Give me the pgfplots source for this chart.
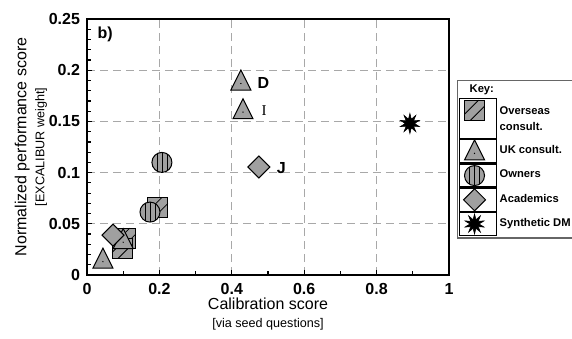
\documentclass[border=0pt]{standalone}
\usepackage{pgfplots}
\pgfplotsset{compat=1.18}
\usepackage{fontspec}
\setmainfont{Liberation Sans}
\newfontfamily\seriffont{Liberation Serif}
\definecolor{mk}{HTML}{A0A0A0}
\definecolor{gridc}{HTML}{A8A8A8}

% hatched square
\pgfdeclareplotmark{hsquare}{%
  \pgfpathrectangle{\pgfpoint{-\pgfplotmarksize}{-\pgfplotmarksize}}{\pgfpoint{2\pgfplotmarksize}{2\pgfplotmarksize}}%
  \pgfusepathqfill
  \begin{pgfscope}%
    \pgfsetlinewidth{0.4pt}%
    \pgfpathmoveto{\pgfpoint{-0.4\pgfplotmarksize}{-\pgfplotmarksize}}\pgfpathlineto{\pgfpoint{\pgfplotmarksize}{0.4\pgfplotmarksize}}%
    \pgfpathmoveto{\pgfpoint{-\pgfplotmarksize}{-0.4\pgfplotmarksize}}\pgfpathlineto{\pgfpoint{0.4\pgfplotmarksize}{\pgfplotmarksize}}%
    \pgfusepathqstroke
  \end{pgfscope}%
  \pgfpathrectangle{\pgfpoint{-\pgfplotmarksize}{-\pgfplotmarksize}}{\pgfpoint{2\pgfplotmarksize}{2\pgfplotmarksize}}%
  \pgfusepathqstroke
}
% circle with vertical lines
\pgfdeclareplotmark{vcircle}{%
  \pgfpathcircle{\pgfpointorigin}{\pgfplotmarksize}%
  \pgfusepathqfill
  \begin{pgfscope}%
    \pgfpathcircle{\pgfpointorigin}{\pgfplotmarksize}%
    \pgfusepathqclip
    \pgfsetlinewidth{0.4pt}%
    \pgfpathmoveto{\pgfpoint{-0.5\pgfplotmarksize}{-\pgfplotmarksize}}\pgfpathlineto{\pgfpoint{-0.5\pgfplotmarksize}{\pgfplotmarksize}}%
    \pgfpathmoveto{\pgfpoint{0pt}{-\pgfplotmarksize}}\pgfpathlineto{\pgfpoint{0pt}{\pgfplotmarksize}}%
    \pgfpathmoveto{\pgfpoint{0.5\pgfplotmarksize}{-\pgfplotmarksize}}\pgfpathlineto{\pgfpoint{0.5\pgfplotmarksize}{\pgfplotmarksize}}%
    \pgfusepathqstroke
  \end{pgfscope}%
  \pgfpathcircle{\pgfpointorigin}{\pgfplotmarksize}%
  \pgfusepathqstroke
}
% triangle with dot
\pgfdeclareplotmark{dtriangle}{%
  \pgfpathmoveto{\pgfpoint{0pt}{1.15\pgfplotmarksize}}%
  \pgfpathlineto{\pgfpoint{-\pgfplotmarksize}{-0.85\pgfplotmarksize}}%
  \pgfpathlineto{\pgfpoint{\pgfplotmarksize}{-0.85\pgfplotmarksize}}%
  \pgfpathclose
  \pgfusepathqfillstroke
  \begin{pgfscope}%
    \pgfsetfillcolor{black}%
    \pgfpathcircle{\pgfpoint{0pt}{-0.2\pgfplotmarksize}}{0.35pt}%
    \pgfusepathqfill
  \end{pgfscope}%
}
% diamond
\pgfdeclareplotmark{sdiamond}{%
  \pgfpathmoveto{\pgfpoint{0pt}{\pgfplotmarksize}}%
  \pgfpathlineto{\pgfpoint{\pgfplotmarksize}{0pt}}%
  \pgfpathlineto{\pgfpoint{0pt}{-\pgfplotmarksize}}%
  \pgfpathlineto{\pgfpoint{-\pgfplotmarksize}{0pt}}%
  \pgfpathclose
  \pgfusepathqfillstroke
}
% burst
\pgfdeclareplotmark{burst}{%
  \pgfpathmoveto{\pgfpointpolar{90}{\pgfplotmarksize}}%
  \foreach \a in {0,36,...,324}{%
    \pgfpathlineto{\pgfpointpolar{90+\a}{\pgfplotmarksize}}%
    \pgfpathlineto{\pgfpointpolar{108+\a}{0.45\pgfplotmarksize}}%
  }%
  \pgfpathclose
  \pgfusepathqfillstroke
}

\begin{document}
\begin{tikzpicture}
\begin{axis}[
  width=181pt, height=128pt, scale only axis,
  xmin=0, xmax=1, ymin=0, ymax=0.25,
  xtick={0,0.2,0.4,0.6,0.8,1},
  xticklabels={0,0.2,0.4,0.6,0.8,1},
  ytick={0,0.05,0.1,0.15,0.2,0.25},
  yticklabels={0,0.05,0.1,0.15,0.2,0.25},
  minor x tick num=1, minor y tick num=4,
  tick align=inside, tick pos=left,
  major tick length=2.5pt, minor tick length=2.2pt,
  tick style={black, line width=0.6pt},
  grid=major,
  major grid style={gridc, dash pattern=on 4pt off 2.5pt, line width=0.5pt},
  axis line style={line width=1.2pt},
  ticklabel style={font=\fontsize{8}{9}\selectfont\bfseries},
  xticklabel style={yshift=-0.5pt},
  ylabel={Normalized performance score\\[-1pt]{\fontsize{6.3}{7}\selectfont [EXCALIBUR weight]}},
  ylabel style={at={(axis description cs:-0.155,0.5)}, anchor=center, align=center, font=\fontsize{8}{10}\selectfont},
  xlabel={Calibration score\\[-1pt]{\fontsize{6.3}{7}\selectfont [via seed questions]}},
  xlabel style={at={(axis description cs:0.5,-0.152)}, anchor=center, align=center, font=\fontsize{8}{10}\selectfont},
  clip=false,
  legend image code/.code={\path (0cm,-5.75pt) rectangle (0.66cm,5.75pt); \draw[#1] plot coordinates {(0.27cm,0cm)};},
  legend style={at={(axis description cs:1.022,0.762)}, anchor=north west,
    draw=gray!80!black, line width=0.6pt, fill=white,
    font=\fontsize{5.6}{8}\selectfont\bfseries, row sep=0pt,
    inner xsep=0.5pt, inner ysep=1pt, nodes={inner sep=1.2pt}},
  legend cell align=left,
]
\addlegendimage{empty legend}
\addlegendentry{\hspace*{-16.5pt}Key:}

\addplot[only marks, mark=hsquare, mark size=5pt, mark options={fill=mk, draw=black, line width=0.5pt},
  legend image code/.code={\path (0cm,-14.25pt) rectangle (0.66cm,5.75pt); \draw[only marks, mark=hsquare, mark size=5pt, mark options={fill=mk, draw=black, line width=0.5pt}] plot coordinates {(0.27cm,0cm)};}]
  coordinates {(0.196,0.066) (0.107,0.036) (0.097,0.026)};
\addlegendentry{\begin{tabular}[t]{@{}l@{}}Overseas\\consult.\end{tabular}}

\addplot[only marks, mark=dtriangle, mark size=5pt, mark options={fill=mk, draw=black, line width=0.5pt}]
  coordinates {(0.044,0.015) (0.100,0.034) (0.425,0.189) (0.431,0.161)};
\addlegendentry{UK consult.}

\addplot[only marks, mark=vcircle, mark size=5pt, mark options={fill=mk, draw=black, line width=0.5pt}]
  coordinates {(0.207,0.110) (0.174,0.0615)};
\addlegendentry{Owners}

\addplot[only marks, mark=sdiamond, mark size=5.5pt, mark options={fill=mk, draw=black, line width=0.5pt}]
  coordinates {(0.072,0.039) (0.475,0.1055)};
\addlegendentry{Academics}

\addplot[only marks, mark=burst, mark size=5pt, mark options={fill=black, draw=black, line width=0.3pt}]
  coordinates {(0.892,0.148)};
\addlegendentry{Synthetic DM}

\node[font=\fontsize{8}{9}\selectfont\bfseries] at (axis cs:0.05,0.235) {b)};
\node[font=\fontsize{8}{9}\selectfont\bfseries, anchor=west] at (axis cs:0.452,0.188) {D};
\node[font=\fontsize{7.5}{9}\selectfont\seriffont, anchor=west] at (axis cs:0.463,0.161) {I};
\node[font=\fontsize{8}{9}\selectfont\bfseries, anchor=west] at (axis cs:0.505,0.104) {J};

\coordinate (bbl) at (axis cs:-0.2403,-0.0615);
\coordinate (btr) at (axis cs:1.3398,0.2686);
\end{axis}
\pgfresetboundingbox
\path[use as bounding box] (bbl) rectangle (btr);
\end{tikzpicture}
\end{document}
